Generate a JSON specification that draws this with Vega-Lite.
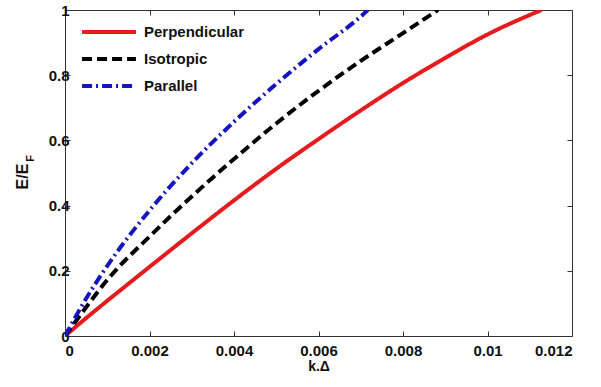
{
  "$schema": "https://vega.github.io/schema/vega-lite/v6.json",
  "width": 507,
  "height": 326,
  "autosize": {"type": "none"},
  "padding": {"left": 65, "top": 10, "right": 29, "bottom": 51},
  "background": "white",
  "config": {
    "view": {"stroke": "#333333", "strokeWidth": 1},
    "font": "Liberation Sans",
    "axis": {
      "grid": false,
      "domain": false,
      "tickColor": "#333333",
      "tickSize": -5,
      "labelFont": "Liberation Sans",
      "labelFontSize": 15,
      "labelFontWeight": "bold",
      "labelColor": "#111111",
      "titleFont": "Liberation Sans",
      "titleFontSize": 14,
      "titleFontWeight": "bold",
      "titleColor": "#111111"
    }
  },
  "data": {
    "values": [
      {"s": "Perpendicular", "x": 0, "y": 0},
      {"s": "Perpendicular", "x": 0.0005, "y": 0.055},
      {"s": "Perpendicular", "x": 0.001, "y": 0.108},
      {"s": "Perpendicular", "x": 0.002, "y": 0.212},
      {"s": "Perpendicular", "x": 0.003, "y": 0.315},
      {"s": "Perpendicular", "x": 0.004, "y": 0.416},
      {"s": "Perpendicular", "x": 0.005, "y": 0.513},
      {"s": "Perpendicular", "x": 0.006, "y": 0.604},
      {"s": "Perpendicular", "x": 0.007, "y": 0.692},
      {"s": "Perpendicular", "x": 0.008, "y": 0.776},
      {"s": "Perpendicular", "x": 0.009, "y": 0.853},
      {"s": "Perpendicular", "x": 0.01, "y": 0.925},
      {"s": "Perpendicular", "x": 0.01128, "y": 1.0},
      {"s": "Isotropic", "x": 0, "y": 0},
      {"s": "Isotropic", "x": 0.0005, "y": 0.088},
      {"s": "Isotropic", "x": 0.001, "y": 0.172},
      {"s": "Isotropic", "x": 0.002, "y": 0.305},
      {"s": "Isotropic", "x": 0.003, "y": 0.428},
      {"s": "Isotropic", "x": 0.004, "y": 0.543},
      {"s": "Isotropic", "x": 0.005, "y": 0.652},
      {"s": "Isotropic", "x": 0.006, "y": 0.752},
      {"s": "Isotropic", "x": 0.007, "y": 0.844},
      {"s": "Isotropic", "x": 0.008, "y": 0.929},
      {"s": "Isotropic", "x": 0.00883, "y": 1.0},
      {"s": "Parallel", "x": 0, "y": 0},
      {"s": "Parallel", "x": 0.0005, "y": 0.115},
      {"s": "Parallel", "x": 0.001, "y": 0.215},
      {"s": "Parallel", "x": 0.002, "y": 0.385},
      {"s": "Parallel", "x": 0.003, "y": 0.53},
      {"s": "Parallel", "x": 0.004, "y": 0.657},
      {"s": "Parallel", "x": 0.005, "y": 0.773},
      {"s": "Parallel", "x": 0.006, "y": 0.88},
      {"s": "Parallel", "x": 0.007, "y": 0.98},
      {"s": "Parallel", "x": 0.00717, "y": 1.0}
    ]
  },
  "layer": [
    {
      "mark": {"type": "line", "strokeWidth": 4, "interpolate": "monotone", "clip": true},
      "encoding": {
        "x": {"field": "x", "type": "quantitative", "scale": {"domain": [0, 0.012], "nice": false},
              "axis": {"values": [0, 0.002, 0.004, 0.006, 0.008, 0.01, 0.012], "format": "~g", "title": "k.Δ", "labelPadding": 12, "titlePadding": 1}},
        "y": {"field": "y", "type": "quantitative", "scale": {"domain": [0, 1], "nice": false},
              "axis": {"values": [0, 0.2, 0.4, 0.6, 0.8, 1], "format": "~g", "title": "E/E", "titleFontSize": 16, "labelPadding": 1, "titleX": -43, "titleY": 166, "titleBaseline": "middle", "titleAlign": "center", "titleAngle": -90}},
        "color": {"field": "s", "type": "nominal",
                  "scale": {"domain": ["Perpendicular", "Isotropic", "Parallel"], "range": ["#e61b1e", "#000000", "#1414c0"]},
                  "legend": {"orient": "none", "legendX": 15, "legendY": 13, "title": null, "symbolType": "stroke", "symbolSize": 2900, "symbolStrokeWidth": 4, "clipHeight": 18, "labelFont": "Liberation Sans", "labelFontSize": 15, "labelFontWeight": "bold", "labelColor": "#111111", "rowPadding": 9, "labelOffset": 6}},
        "strokeDash": {"field": "s", "type": "nominal",
                       "scale": {"domain": ["Perpendicular", "Isotropic", "Parallel"], "range": [[1, 0], [10, 5], [10, 4, 2, 4]]},
                       "legend": null}
      }
    },
    {
      "mark": {"type": "line", "opacity": 0},
      "encoding": {
        "x": {"field": "x", "type": "quantitative", "scale": {"domain": [0, 0.012], "nice": false},
              "axis": {"orient": "top", "values": [0, 0.002, 0.004, 0.006, 0.008, 0.01, 0.012], "labels": false, "title": null}},
        "y": {"field": "y", "type": "quantitative", "scale": {"domain": [0, 1], "nice": false},
              "axis": {"orient": "right", "values": [0, 0.2, 0.4, 0.6, 0.8, 1], "labels": false, "title": "F", "titleFontSize": 11, "titleX": -542, "titleY": 148, "titleAngle": -90, "titleBaseline": "middle", "titleAlign": "center"}},
        "detail": {"field": "s"}
      }
    }
  ],
  "resolve": {"axis": {"x": "independent", "y": "independent"}}
}
